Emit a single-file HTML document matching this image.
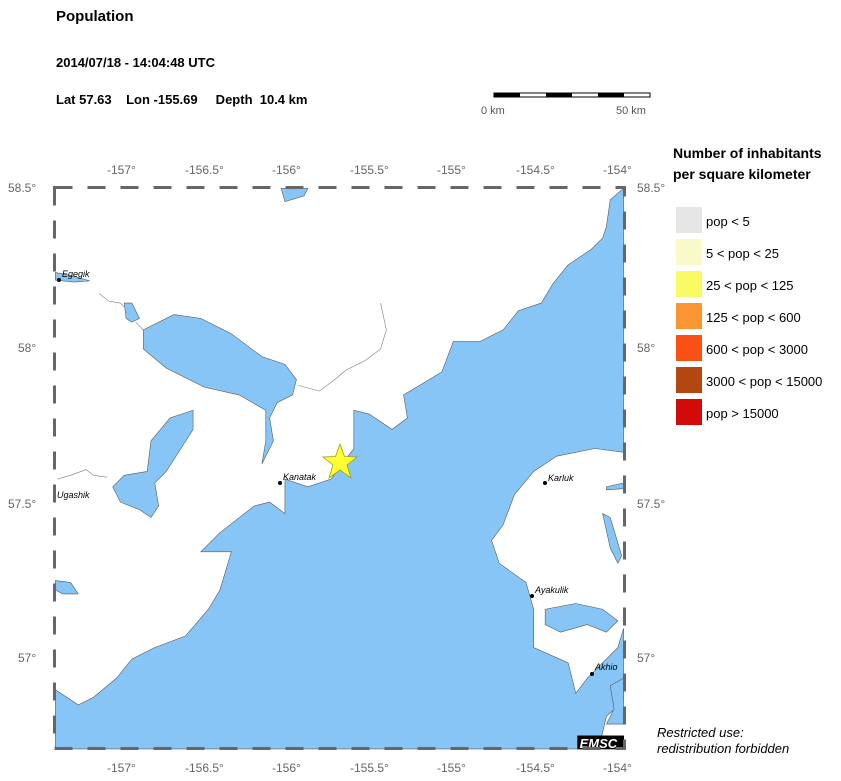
<!DOCTYPE html>
<html><head><meta charset="utf-8"><style>
body{margin:0;background:#fff;width:841px;height:781px;overflow:hidden;font-family:"Liberation Sans",sans-serif;}
.t{position:absolute;font-weight:bold;font-size:14px;color:#000;}
.lg{position:absolute;left:676px;font-size:13px;}
.sw{position:absolute;left:676px;width:26px;height:26px;}
.lt{position:absolute;left:706px;font-size:13px;}
</style></head><body>
<div class="t" style="left:56px;top:8px;font-size:15px">Population</div>
<div class="t" style="left:56px;top:55px;font-size:13px">2014/07/18 - 14:04:48 UTC</div>
<div class="t" style="left:56px;top:92px;font-size:13px">Lat 57.63 &nbsp;&nbsp; Lon -155.69 &nbsp;&nbsp;&nbsp; Depth &nbsp;10.4 km</div>
<svg style="position:absolute;left:0;top:0" width="841" height="781">
<g>
<rect x="494" y="93" width="156" height="4" fill="#fff" stroke="#000" stroke-width="1"/>
<rect x="494" y="93" width="26" height="4" fill="#000"/><rect x="546" y="93" width="26" height="4" fill="#000"/><rect x="598" y="93" width="26" height="4" fill="#000"/>
<text x="481" y="114" font-size="11" fill="#555" font-family="Liberation Sans">0 km</text>
<text x="616" y="114" font-size="11" fill="#555" font-family="Liberation Sans">50 km</text>
</g>
<g transform="translate(40,150) scale(0.38270)">
<rect x="38" y="98" width="1487" height="1467" fill="#fff"/>
<path fill="#87c5f7" stroke="#555" stroke-width="1.5" d="M40,1410 L100,1450 140,1430 200,1380 240,1330 300,1300 380,1270 440,1200 470,1150 500,1050 420,1050 470,1000 560,930 600,920 640,950 640,860 700,880 760,860 820,780 820,680 860,690 920,730 960,700 950,640 1000,610 1050,580 1080,500 1150,500 1210,470 1250,420 1310,400 1340,350 1380,300 1440,260 1470,230 1480,200 1490,130 1525,100 L1525,790 1450,780 1350,800 1290,840 1240,900 1210,980 1180,1020 1200,1080 1270,1130 1290,1200 1290,1300 1380,1340 1400,1420 1430,1380 1470,1340 1510,1300 1525,1250 L1525,1440 1480,1480 1460,1565 L40,1565 Z"/>
<g fill="#87c5f7" stroke="#555" stroke-width="1.5">
<path d="M270,470 350,430 420,440 500,480 580,540 640,560 670,600 660,640 620,660 600,700 610,760 580,820 590,760 590,680 520,640 430,620 330,570 270,520Z"/>
<path d="M290,760 340,700 400,680 400,730 330,840 300,870 310,930 290,960 260,940 210,920 190,880 220,850 280,840Z"/>
<path d="M630,100 700,100 690,120 640,135Z"/>
<path d="M40,320 90,330 130,342 90,345 40,340Z"/>
<path d="M40,1125 80,1130 100,1160 60,1160 40,1150Z"/>
<path d="M1320,1200 1400,1185 1470,1200 1510,1230 1480,1260 1430,1240 1360,1260 1320,1240Z"/>
<path d="M1470,950 1490,960 1520,1060 1510,1080 1490,1040Z"/>
<path d="M1480,880 1525,870 1525,885 1480,888Z"/>
<path d="M220,400 240,400 260,440 240,450 225,440Z"/>
<path d="M1490,1400 1525,1380 1525,1500 1480,1500 1500,1460Z"/>
</g>
<path d="M155,375 180,395 210,400 220,410 M250,450 270,470 M675,615 730,630 770,600 800,575 850,550 890,520 905,470 890,400 M45,860 80,850 120,835 140,850 175,855" fill="none" stroke="#777" stroke-width="1.5"/>
<rect x="1404" y="1530" width="122" height="36" fill="#000"/>
<text x="1410" y="1562" font-size="34" font-style="italic" font-weight="bold" fill="#fff" font-family="Liberation Sans">EMSC</text>
</g>
<path d="M340,444 L344.5,456.5 357,457 347,465 351,478 340,470 329,478 333,465 323,457 335.5,456.5Z" fill="#ffff33" stroke="#a0a000" stroke-width="0.8"/>
<g fill="#000" font-family="Liberation Sans" font-size="9" font-style="italic">
<circle cx="59" cy="280" r="2"/><text x="62" y="277">Egegik</text>
<circle cx="280" cy="483" r="2"/><text x="283" y="480">Kanatak</text>
<circle cx="545" cy="483" r="2"/><text x="548" y="481">Karluk</text>
<circle cx="532" cy="596" r="2"/><text x="535" y="593">Ayakulik</text>
<circle cx="592" cy="674" r="2"/><text x="595" y="670">Akhio</text>
<text x="57" y="498">Ugashik</text>
</g>
<rect x="54.5" y="187.5" width="570" height="561" fill="none" stroke="#666" stroke-width="3" stroke-dasharray="18,15"/>
<g font-family="Liberation Sans" font-size="12" fill="#666">
<text x="107" y="174">-157°</text><text x="185" y="174">-156.5°</text><text x="272" y="174">-156°</text><text x="350" y="174">-155.5°</text><text x="437" y="174">-155°</text><text x="516" y="174">-154.5°</text><text x="603" y="174">-154°</text>
<text x="107" y="772">-157°</text><text x="185" y="772">-156.5°</text><text x="272" y="772">-156°</text><text x="350" y="772">-155.5°</text><text x="437" y="772">-155°</text><text x="516" y="772">-154.5°</text><text x="603" y="772">-154°</text>
<text x="8" y="192">58.5°</text><text x="18" y="352">58°</text><text x="8" y="508">57.5°</text><text x="18" y="662">57°</text>
<text x="637" y="192">58.5°</text><text x="637" y="352">58°</text><text x="637" y="508">57.5°</text><text x="637" y="662">57°</text>
</g>
</svg>
<div class="t" style="left:673px;top:143px;font-size:14px;line-height:21px">Number of inhabitants<br>per square kilometer</div>
<div class="sw" style="top:207px;background:#e6e6e6"></div><div class="lt" style="top:214px">pop &lt; 5</div>
<div class="sw" style="top:239px;background:#fafac8"></div><div class="lt" style="top:246px">5 &lt; pop &lt; 25</div>
<div class="sw" style="top:271px;background:#fafa64"></div><div class="lt" style="top:278px">25 &lt; pop &lt; 125</div>
<div class="sw" style="top:303px;background:#fa9632"></div><div class="lt" style="top:310px">125 &lt; pop &lt; 600</div>
<div class="sw" style="top:335px;background:#fa5014"></div><div class="lt" style="top:342px">600 &lt; pop &lt; 3000</div>
<div class="sw" style="top:367px;background:#b4460f"></div><div class="lt" style="top:374px">3000 &lt; pop &lt; 15000</div>
<div class="sw" style="top:399px;background:#d20a0a"></div><div class="lt" style="top:406px">pop &gt; 15000</div>
<div style="position:absolute;left:657px;top:725px;font-size:13px;font-style:italic;line-height:16px">Restricted use:<br>redistribution forbidden</div>
</body></html>
